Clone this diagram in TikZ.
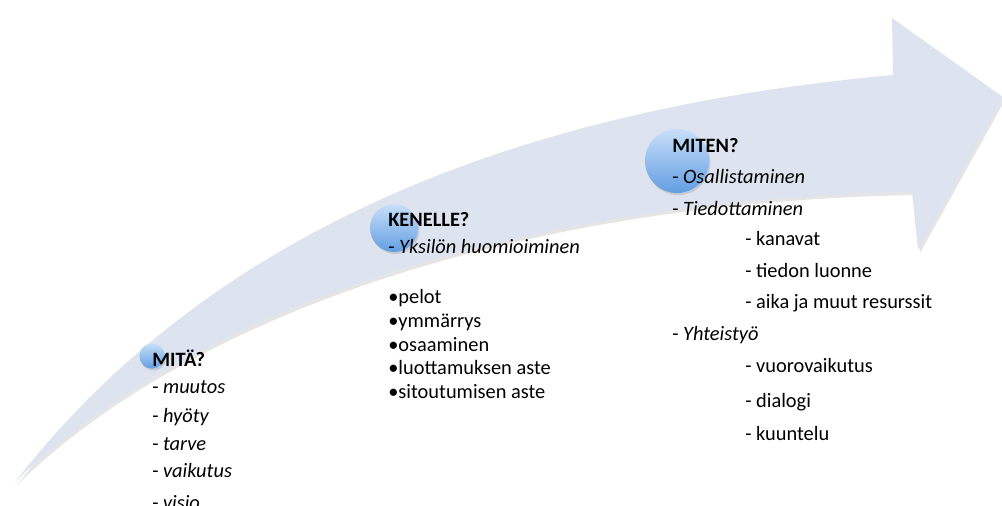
\documentclass[tikz,border=0pt]{standalone}
\usepackage{fontspec}
\setmainfont{Carlito}
\usetikzlibrary{positioning}
\usetikzlibrary{shadows}
\definecolor{arrowgray}{RGB}{222,228,239}
\definecolor{balltop}{RGB}{200,223,249}
\definecolor{ballbottom}{RGB}{98,158,226}
\tikzset{x=0.025cm,y=-0.025cm,
    bubble/.style={
        circle,
        shading=axis,
        top color=balltop,
        bottom color=ballbottom,
        drop shadow={opacity=0.25,shadow xshift=1pt,shadow yshift=-1.5pt}},
    heading/.style={
        anchor=base west,
        inner sep=0pt,
        font=\fontsize{14.5}{17}\selectfont\bfseries},
    entry/.style={
        anchor=base west,
        inner sep=0pt,
        font=\fontsize{14.5}{17}\selectfont}}
\newcommand{\arrowoutline}{(15,482) .. controls (180,270) and (450,115) .. (893,75)
    -- (892,18) -- (1003,97) -- (918,250) -- (912,192)
    .. controls (500,200) and (180,320) .. (15,482) -- cycle}

\begin{document}
\begin{tikzpicture}
        \useasboundingbox (0,0) rectangle (1002,506);
        \fill[black,opacity=0.10,shift={(2,3)}] \arrowoutline;
        \fill[arrowgray] \arrowoutline;

        \node[bubble,minimum size=0.63cm] (b1) at (152,356) {};
        \node[bubble,minimum size=1.2cm] (b2) at (394,228) {};
        \node[bubble,minimum size=1.6cm] (b3) at (677,161) {};

        \node[heading] (mita) at (152,366) {MITÄ?};
        \node[entry] (muutos) at (152,393) {- \textit{muutos}};
        \node[entry] (hyoty) at (152,422) {- \textit{hyöty}};
        \node[entry] (tarve) at (152,450) {- \textit{tarve}};
        \node[entry] (vaikutus) at (152,477) {- \textit{vaikutus}};
        \node[entry] (visio) at (152,509) {- \textit{visio}};

        \node[heading] (kenelle) at (388,226) {KENELLE?};
        \node[entry] (yksilo) at (388,253) {- \textit{Yksilön huomioiminen}};
        \node[entry] (pelot) at (388,303) {\textbullet pelot};
        \node[entry] (ymmarrys) at (388,327) {\textbullet ymmärrys};
        \node[entry] (osaaminen) at (388,351) {\textbullet osaaminen};
        \node[entry] (luottamus) at (388,374) {\textbullet luottamuksen aste};
        \node[entry] (sitoutuminen) at (388,398) {\textbullet sitoutumisen aste};

        \node[heading] (miten) at (672,152) {MITEN?};
        \node[entry] (osallistaminen) at (672,183) {- \textit{Osallistaminen}};
        \node[entry] (tiedottaminen) at (672,215) {- \textit{Tiedottaminen}};
        \node[entry] (kanavat) at (745,245) {- kanavat};
        \node[entry] (luonne) at (745,277) {- tiedon luonne};
        \node[entry] (resurssit) at (745,308) {- aika ja muut resurssit};
        \node[entry] (yhteistyo) at (672,340) {- \textit{Yhteistyö}};
        \node[entry] (vuorovaikutus) at (745,372) {- vuorovaikutus};
        \node[entry] (dialogi) at (745,407) {- dialogi};
        \node[entry] (kuuntelu) at (745,440) {- kuuntelu};
    \end{tikzpicture}
\end{document}
